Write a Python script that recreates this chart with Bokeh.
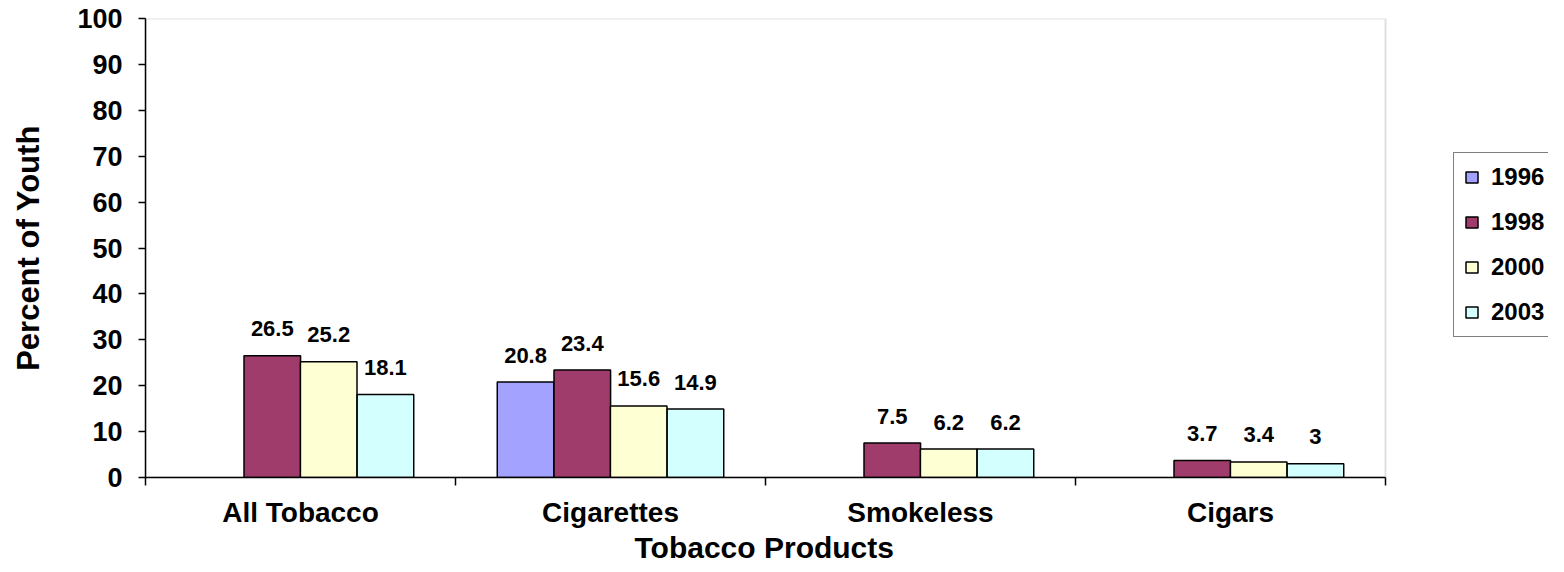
from bokeh.plotting import figure
from bokeh.models import (ColumnDataSource, FixedTicker, Legend, LegendItem, Range1d,
                          BoxAnnotation, Title)
from bokeh.core.properties import value
from bokeh.embed import file_html
from bokeh.resources import INLINE

categories = ["All Tobacco", "Cigarettes", "Smokeless", "Cigars"]
years = ["1996", "1998", "2000", "2003"]
y1996 = [None, 20.8, None, None]
y1998 = [26.5, 23.4, 7.5, 3.7]
y2000 = [25.2, 15.6, 6.2, 3.4]
y2003 = [18.1, 14.9, 6.2, 3.0]
series = [y1996, y1998, y2000, y2003]
y_ticks = list(range(0, 101, 10))

colors = ["#A3A3FF", "#A03C6C", "#FFFFD4", "#D4FFFF"]
offsets = [-0.274, -0.091, 0.091, 0.274]
bar_width = 0.1825
FONT = "Liberation Sans"

W, H = 1548, 564
LEFT, TOP, PLOT_RIGHT, PLOT_BOTTOM = 145, 18, 1385, 477
n = len(categories)
# frame extends to the canvas edge so that the legend can sit right of the plot area
x_end = n * (W - LEFT) / (PLOT_RIGHT - LEFT)

p = figure(width=W, height=H, x_range=Range1d(0, x_end), y_range=Range1d(0, 100),
           output_backend="svg", toolbar_location=None,
           min_border_left=LEFT, min_border_right=0, min_border_top=TOP,
           min_border_bottom=H - PLOT_BOTTOM)
p.xgrid.visible = False
p.ygrid.visible = False
p.outline_line_color = None
p.background_fill_color = "white"

area = BoxAnnotation(left=0, right=n, bottom=0, top=100, fill_alpha=0,
                     line_color="#999999", line_width=2, level="underlay")
p.add_layout(area)

# y axis
ya = p.yaxis[0]
ya.ticker = FixedTicker(ticks=y_ticks, minor_ticks=[])
ya.major_tick_out = 7
ya.major_tick_in = 0
ya.minor_tick_out = 0
ya.axis_line_color = "black"
ya.axis_line_width = 1.5
ya.major_tick_line_color = "black"
ya.major_tick_line_width = 1.5
ya.major_label_text_font = FONT
ya.major_label_text_font_size = "27px"
ya.major_label_text_font_style = "bold"
ya.major_label_text_color = "black"
ya.major_label_standoff = 16
ya.axis_label = "Percent of Youth"
ya.axis_label_text_font = FONT
ya.axis_label_text_font_size = "31px"
ya.axis_label_text_font_style = "bold"
ya.axis_label_text_color = "black"
ya.axis_label_standoff = 28

# x axis
xa = p.xaxis[0]
centers = [i + 0.5 for i in range(n)]
bounds = [float(i) for i in range(n + 1)]
xa.bounds = (0, n)
xa.ticker = FixedTicker(ticks=centers, minor_ticks=bounds)
xa.major_label_overrides = {c: name for c, name in zip(centers, categories)}
xa.major_tick_out = 0
xa.major_tick_in = 0
xa.minor_tick_out = 8
xa.minor_tick_in = 0
xa.minor_tick_line_color = "black"
xa.minor_tick_line_width = 1.5
xa.axis_line_color = "black"
xa.axis_line_width = 1.5
xa.major_label_text_font = FONT
xa.major_label_text_font_size = "28px"
xa.major_label_text_font_style = "bold"
xa.major_label_text_color = "black"
xa.major_label_standoff = 11

# x-axis title, centred under the plot area (not under the legend strip)
x_title = Title(text="Tobacco Products", align="left", offset=489, standoff=-3,
                text_font=FONT, text_font_size="30px", text_font_style="bold",
                text_color="black")
p.add_layout(x_title, "below")

items = []
for j, (yr, vals) in enumerate(zip(years, series)):
    xs, tops, labs = [], [], []
    for i, v in enumerate(vals):
        if v is None:
            continue
        xs.append(i + 0.5 + offsets[j])
        tops.append(v)
        labs.append(f"{v:g}")
    src = ColumnDataSource(dict(x=xs, top=tops, label=labs))
    r = p.vbar(x="x", top="top", width=bar_width, source=src,
               fill_color=colors[j], line_color="black", line_width=1.5)
    p.text(x="x", y="top", text="label", source=src, text_align="center",
           text_baseline="alphabetic", y_offset=-27,
           text_font=value(FONT), text_font_style="bold", text_font_size="22px",
           text_color="black")
    items.append(LegendItem(label=yr, renderers=[r]))

legend = Legend(items=items, location=(1453 - LEFT, PLOT_BOTTOM - 337), orientation="vertical",
                border_line_color="black", border_line_width=1,
                background_fill_color="white", background_fill_alpha=1,
                label_text_font=FONT, label_text_font_size="24px",
                label_text_font_style="bold", label_text_color="black",
                glyph_width=15, glyph_height=14, label_height=22,
                spacing=17, padding=10, margin=0, label_standoff=12, label_width=80)
p.add_layout(legend)

open("out.html", "w").write(file_html(p, INLINE))
